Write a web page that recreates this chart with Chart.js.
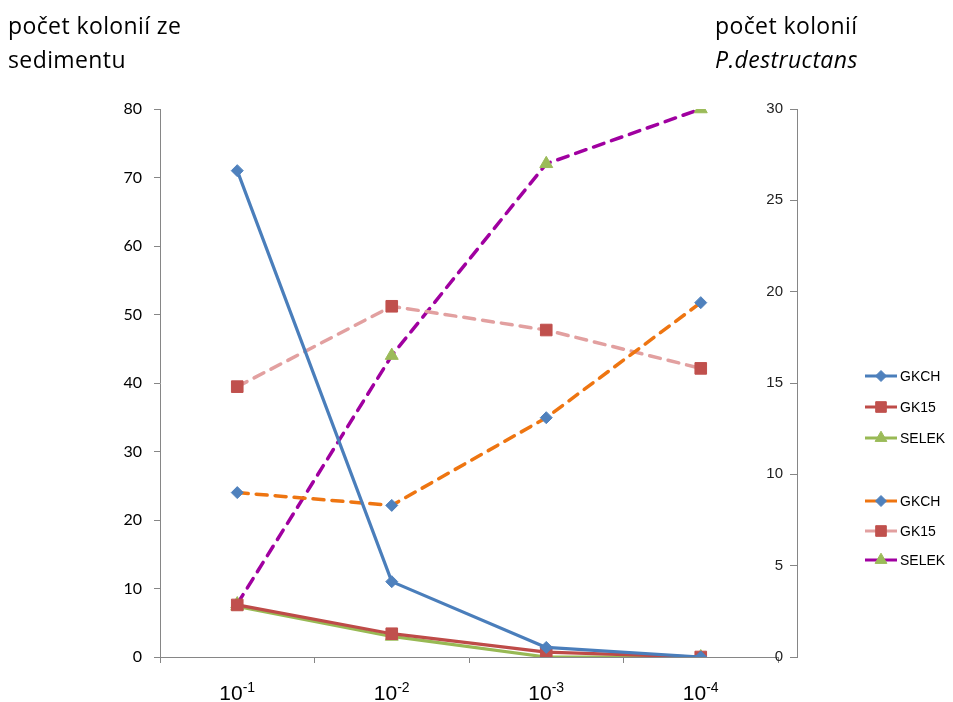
<!DOCTYPE html>
<html>
<head>
<meta charset="utf-8">
<script src="https://cdn.jsdelivr.net/npm/chart.js@4/dist/chart.umd.min.js"></script>
<style>
  html, body { margin: 0; padding: 0; background: #fff; }
  #wrap { position: relative; width: 953px; height: 702px; }
  canvas { position: absolute; left: 0; top: 0; }
  .ttl { position: absolute; font-family: "Open Sans", Lato, sans-serif; font-size: 23px; letter-spacing: 0.4px; line-height: 34px; color: #000; white-space: nowrap; }
</style>
</head>
<body>
<div id="wrap">
  <canvas id="c" width="953" height="702"></canvas>
  <div class="ttl" style="left:8px; top:8px;">počet kolonií ze<br>sedimentu</div>
  <div class="ttl" style="left:715px; top:8px;">počet kolonií<br><i>P.destructans</i></div>
</div>
<script>
// Categories (dilution), written as base^exponent
const categories = ['10^-1', '10^-2', '10^-3', '10^-4'];

// Left axis: colonies from sediment (solid lines)
const gkchSediment  = [71, 11, 1.4, 0];
const gk15Sediment  = [7.6, 3.4, 0.7, 0];
const selekSediment = [7.4, 3.0, 0, 0];

// Right axis: colonies of P.destructans (dashed lines)
const gkchPd  = [9.0, 8.3, 13.1, 19.4];
const gk15Pd  = [14.8, 19.2, 17.9, 15.8];
const selekPd = [2.9, 16.5, 27.0, 30.0];

// Axis ticks
const leftTicks  = [0, 10, 20, 30, 40, 50, 60, 70, 80];
const rightTicks = [0, 5, 10, 15, 20, 25, 30];

const seriesNames = ['GKCH', 'GK15', 'SELEK'];

const BLUE = '#4A7EBB', BLUE_M = '#4F81BD';
const RED = '#BE4B48', RED_M = '#C0504D';
const GREEN = '#98B954', GREEN_M = '#9BBB59';
const ORANGE = '#EE7511', PINK = '#E2A0A0', PURPLE = '#A000A0';

function solid(label, data, line, marker, style, r) {
  return { label, data, yAxisID: 'y', borderColor: line, backgroundColor: marker,
    borderWidth: 3.2, pointStyle: style, pointRadius: r, pointHoverRadius: r,
    pointBackgroundColor: marker, pointBorderColor: marker, pointBorderWidth: 1,
    tension: 0, fill: false, borderCapStyle: 'round', borderJoinStyle: 'round' };
}
function dashed(label, data, line, marker, style, r) {
  return { label, data, yAxisID: 'y1', borderColor: line, backgroundColor: marker,
    borderWidth: 3.5, borderDash: [11, 8], pointStyle: style, pointRadius: r, pointHoverRadius: r,
    pointBackgroundColor: marker, pointBorderColor: marker, pointBorderWidth: 1,
    tension: 0, fill: false, borderCapStyle: 'round' };
}

const datasets = [
  solid(seriesNames[0], gkchSediment, BLUE, BLUE_M, 'rectRot', 6),
  solid(seriesNames[1], gk15Sediment, RED, RED_M, 'rect', 8.2),
  solid(seriesNames[2], selekSediment, GREEN, GREEN_M, 'triangle', 7.5),
  dashed(seriesNames[0], gkchPd, ORANGE, BLUE_M, 'rectRot', 6),
  dashed(seriesNames[1], gk15Pd, PINK, RED_M, 'rect', 8.2),
  dashed(seriesNames[2], selekPd, PURPLE, GREEN_M, 'triangle', 7.5)
];

// The category axis stops short of the secondary axis (as in the original figure)
const xSpanPlugin = {
  id: 'xSpan',
  afterLayout(chart) {
    const xs = chart.scales.x;
    xs.right = xs.left + 618;
    xs.width = 618;
    xs.configure();
  }
};

// x tick labels with real superscript exponents, placed by the x scale
const xLabelPlugin = {
  id: 'xSupLabels',
  afterDraw(chart) {
    const ctx = chart.ctx;
    const xs = chart.scales.x;
    const baseY = xs.top + 43;
    chart.data.labels.forEach((lab, i) => {
      const parts = String(lab).split('^');
      const base = parts[0], exp = parts[1] || '';
      const cx = xs.getPixelForTick(i);
      ctx.save();
      ctx.fillStyle = '#000';
      ctx.textBaseline = 'alphabetic';
      ctx.textAlign = 'left';
      ctx.font = '21px "Liberation Sans", Arial, sans-serif';
      const wb = ctx.measureText(base).width;
      ctx.font = '14px "Liberation Sans", Arial, sans-serif';
      const we = ctx.measureText(exp).width;
      const x0 = cx - (wb + we) / 2;
      ctx.font = '21px "Liberation Sans", Arial, sans-serif';
      ctx.fillText(base, x0, baseY);
      ctx.font = '14px "Liberation Sans", Arial, sans-serif';
      ctx.fillText(exp, x0 + wb, baseY - 8);
      ctx.restore();
    });
  }
};

const legendPlugin = {
  id: 'customLegend',
  afterDraw(chart) {
    const ctx = chart.ctx;
    const ys = [376, 407, 438, 501, 531, 560];
    chart.data.datasets.forEach((ds, i) => {
      const y = ys[i];
      ctx.save();
      ctx.strokeStyle = ds.borderColor;
      ctx.lineWidth = 3;
      ctx.beginPath();
      ctx.moveTo(865, y);
      ctx.lineTo(897, y);
      ctx.stroke();
      ctx.fillStyle = ds.pointBackgroundColor;
      ctx.strokeStyle = ds.pointBackgroundColor;
      ctx.lineWidth = 1;
      Chart.helpers.drawPoint(ctx, {
        pointStyle: ds.pointStyle, rotation: 0, borderWidth: 1,
        radius: ds.pointStyle === 'rect' ? 7.5 : (ds.pointStyle === 'triangle' ? 6.8 : 5.5)
      }, 881, y);
      ctx.fillStyle = '#000';
      ctx.font = '14px "Liberation Sans", Arial, sans-serif';
      ctx.textBaseline = 'middle';
      ctx.textAlign = 'left';
      ctx.fillText(ds.label, 900, y + 1);
      ctx.restore();
    });
  }
};

new Chart(document.getElementById('c'), {
  type: 'line',
  data: { labels: categories, datasets },
  options: {
    responsive: false,
    animation: false,
    events: [],
    layout: { padding: { top: 109, left: 0, right: 0, bottom: 0 } },
    plugins: { legend: { display: false }, tooltip: { enabled: false } },
    scales: {
      x: {
        type: 'category',
        offset: true,
        grid: { display: true, offset: true, drawOnChartArea: false, tickLength: 6, color: '#868686', lineWidth: 1 },
        border: { color: '#868686', width: 1 },
        ticks: { display: false },
        afterFit(s) { s.height = 45; }
      },
      y: {
        position: 'left',
        min: 0, max: 80,
        afterBuildTicks(s) { s.ticks = leftTicks.map(v => ({ value: v })); },
        grid: { drawOnChartArea: false, tickLength: 6, color: '#868686' },
        border: { color: '#868686', width: 1 },
        ticks: { color: '#000', font: { family: 'Lato, "Open Sans", sans-serif', size: 16 }, padding: 12 },
        afterFit(s) { s.width = 160; }
      },
      y1: {
        position: 'right',
        min: 0, max: 30,
        afterBuildTicks(s) { s.ticks = rightTicks.map(v => ({ value: v })); },
        grid: { drawOnChartArea: false, tickLength: -7, color: '#868686' },
        border: { color: '#868686', width: 1 },
        ticks: { color: '#222', mirror: true, font: { family: '"Liberation Sans", Arial, sans-serif', size: 15 }, padding: -14 },
        afterFit(s) { s.width = 156; }
      }
    }
  },
  plugins: [xSpanPlugin, xLabelPlugin, legendPlugin]
});
</script>
</body>
</html>
